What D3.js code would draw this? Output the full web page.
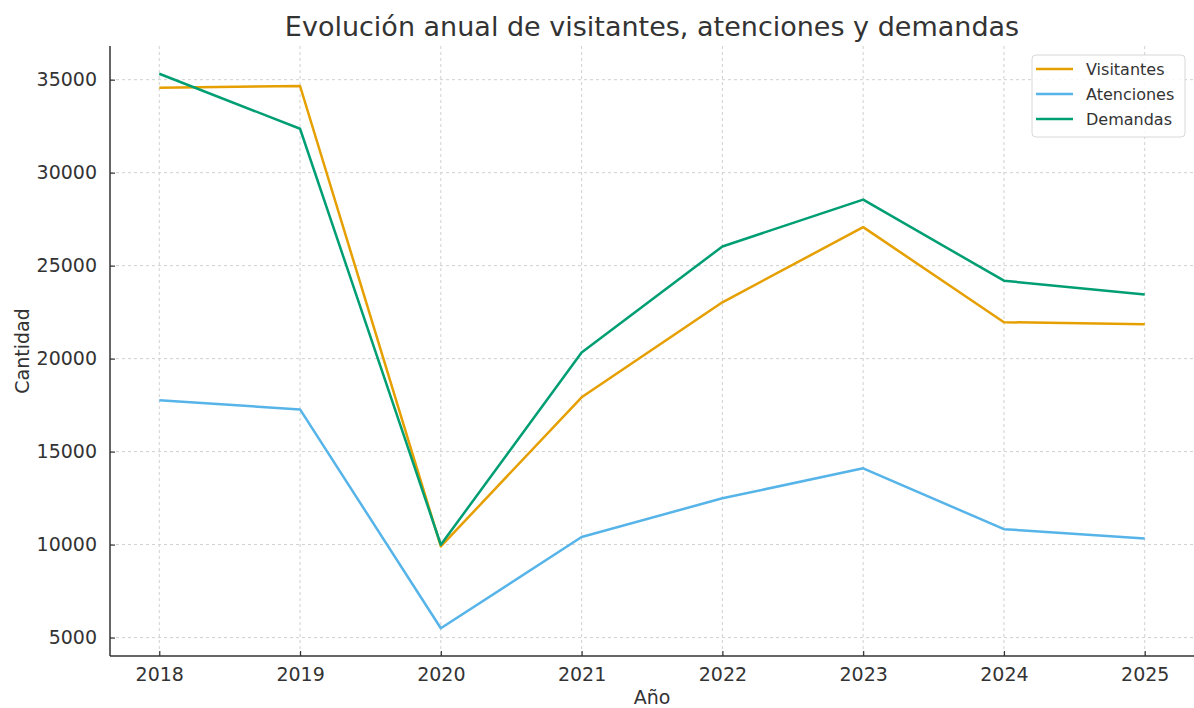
<!DOCTYPE html>
<meta charset="utf-8">
<script src="https://d3js.org/d3.v7.min.js"></script>
<style>
  body { margin: 0; background: #fff; }
  text { font-family: "DejaVu Sans", sans-serif; fill: #333; }
</style>
<svg id="chart" width="1194" height="708"></svg>
<script>

// data
var years = [2018, 2019, 2020, 2021, 2022, 2023, 2024, 2025];
var visitantes = [34570, 34660, 9900, 17920, 23030, 27070, 21960, 21850];
var atenciones = [17760, 17270, 5500, 10410, 12490, 14100, 10830, 10330];
var demandas = [35320, 32360, 9990, 20330, 26030, 28550, 24190, 23450];
var seriesNames = ["Visitantes", "Atenciones", "Demandas"];
var yTicks = [5000, 10000, 15000, 20000, 25000, 30000, 35000];

var series = [
  { name: seriesNames[0], values: visitantes, color: "#E69F00" },
  { name: seriesNames[1], values: atenciones, color: "#56B4E9" },
  { name: seriesNames[2], values: demandas, color: "#009E73" }
];

var svg = d3.select("#chart");
var margin = { top: 46, right: 0, bottom: 52, left: 110 };
var width = 1194 - margin.left - margin.right;
var height = 708 - margin.top - margin.bottom;

var g = svg.append("g").attr("transform", "translate(" + margin.left + "," + margin.top + ")");

// scales with 5% padding like matplotlib
var allVals = visitantes.concat(atenciones, demandas);
var yMin = d3.min(allVals), yMax = d3.max(allVals);
var yPad = (yMax - yMin) * 0.05;
var xPad = (years[years.length - 1] - years[0]) * 0.05;

var x = d3.scaleLinear()
  .domain([years[0] - xPad, years[years.length - 1] + xPad])
  .range([0, width]);
var y = d3.scaleLinear()
  .domain([yMin - yPad, yMax + yPad])
  .range([height, 0]);

// grid
g.append("g")
  .selectAll("line")
  .data(yTicks)
  .enter().append("line")
    .attr("x1", 0).attr("x2", width)
    .attr("y1", d => y(d)).attr("y2", d => y(d))
    .attr("stroke", "#d0d0d0").attr("stroke-width", 1)
    .attr("stroke-dasharray", "3,3");
g.append("g")
  .selectAll("line")
  .data(years)
  .enter().append("line")
    .attr("x1", d => x(d)).attr("x2", d => x(d))
    .attr("y1", 0).attr("y2", height)
    .attr("stroke", "#d0d0d0").attr("stroke-width", 1)
    .attr("stroke-dasharray", "3,3");

// axes (ticks pointing inward)
var xAxis = g.append("g")
  .attr("transform", "translate(0," + height + ")")
  .call(d3.axisBottom(x).tickValues(years).tickFormat(d3.format("d")).tickSizeInner(-5).tickSizeOuter(0).tickPadding(12));
var yAxis = g.append("g")
  .call(d3.axisLeft(y).tickValues(yTicks).tickFormat(d3.format("d")).tickSizeInner(-5).tickSizeOuter(0).tickPadding(12));

[xAxis, yAxis].forEach(function (a) {
  a.select(".domain").attr("stroke", "#333").attr("stroke-width", 1.5);
  a.selectAll(".tick line").attr("stroke", "#333").attr("stroke-width", 1.2);
  a.selectAll(".tick text").attr("font-size", 19).attr("fill", "#333")
    .attr("font-family", "DejaVu Sans, sans-serif");
});
yAxis.selectAll(".tick text").attr("dx", "-1");
yAxis.select(".domain").attr("d", "M0,0V" + height);
xAxis.select(".domain").attr("d", "M0,0H" + width);

// lines
var line = d3.line()
  .x((d, i) => x(years[i]))
  .y(d => y(d));

g.append("g")
  .selectAll("path")
  .data(series)
  .enter().append("path")
    .attr("d", d => line(d.values))
    .attr("fill", "none")
    .attr("stroke", d => d.color)
    .attr("stroke-width", 2.5)
    .attr("stroke-linejoin", "round");

// title and labels
svg.append("text")
  .attr("x", margin.left + width / 2).attr("y", 36)
  .attr("text-anchor", "middle").attr("font-size", 27)
  .text("Evolución anual de visitantes, atenciones y demandas");

svg.append("text")
  .attr("x", margin.left + width / 2).attr("y", 704)
  .attr("text-anchor", "middle").attr("font-size", 19)
  .text("Año");

svg.append("text")
  .attr("transform", "translate(29," + (margin.top + height / 2) + ") rotate(-90)")
  .attr("text-anchor", "middle").attr("font-size", 19)
  .text("Cantidad");

// legend
var legend = svg.append("g").attr("transform", "translate(1032,55)");
legend.append("rect")
  .attr("width", 153).attr("height", 82).attr("rx", 4)
  .attr("fill", "#fff").attr("fill-opacity", 0.85)
  .attr("stroke", "#d8d8d8").attr("stroke-width", 1);
var item = legend.selectAll("g.item")
  .data(series)
  .enter().append("g")
    .attr("class", "item")
    .attr("transform", (d, i) => "translate(0," + (14 + i * 25) + ")");
item.append("line")
  .attr("x1", 4).attr("x2", 41)
  .attr("stroke", d => d.color).attr("stroke-width", 2.5);
item.append("text")
  .attr("x", 54).attr("dy", "0.35em")
  .attr("font-size", 16)
  .text(d => d.name);

</script>
